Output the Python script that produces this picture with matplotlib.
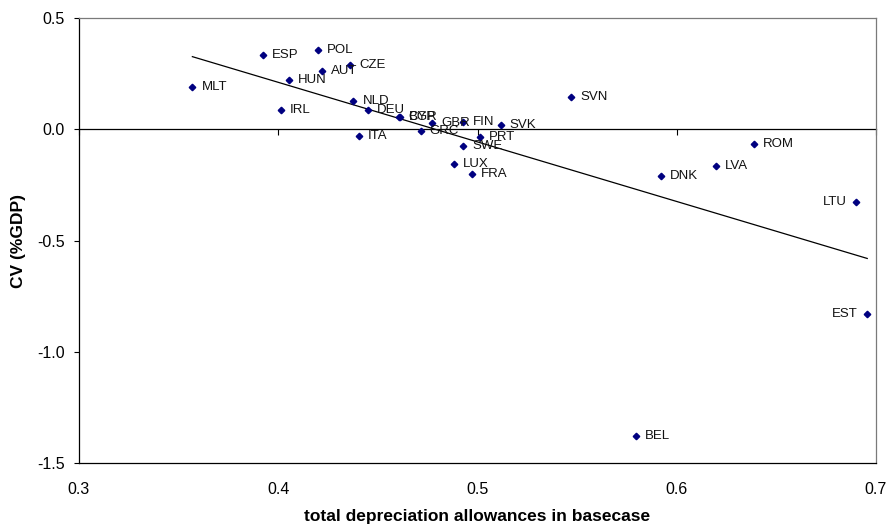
import numpy as np
import matplotlib
matplotlib.use('Agg')
import matplotlib.pyplot as plt
from matplotlib.ticker import FormatStrFormatter

plt.rcParams['font.family'] = ['Liberation Sans', 'DejaVu Sans']

# country codes with depreciation allowances (x) and CV in %GDP (y)
countries = ['MLT', 'ESP', 'POL', 'AUT', 'CZE', 'HUN', 'IRL', 'NLD', 'DEU', 'CYP',
             'BGR', 'GBR', 'FIN', 'SVK', 'PRT', 'GRC', 'ITA', 'SWE', 'LUX', 'FRA',
             'SVN', 'ROM', 'LVA', 'DNK', 'LTU', 'EST', 'BEL']
depr = [0.3569, 0.3922, 0.4198, 0.4218, 0.4360, 0.4055, 0.4014, 0.4377, 0.4452, 0.4607,
        0.4611, 0.4774, 0.4929, 0.5116, 0.5013, 0.4715, 0.4405, 0.4929, 0.4882, 0.4974,
        0.5469, 0.6388, 0.6196, 0.5921, 0.6900, 0.6956, 0.5794]
cv = [0.190, 0.332, 0.357, 0.264, 0.290, 0.222, 0.088, 0.125, 0.088, 0.053,
      0.055, 0.028, 0.031, 0.020, -0.037, -0.010, -0.032, -0.077, -0.155, -0.200,
      0.147, -0.067, -0.164, -0.212, -0.329, -0.829, -1.378]
left_labels = ['LTU', 'EST']

xticks = [0.3, 0.4, 0.5, 0.6, 0.7]
yticks = [0.5, 0.0, -0.5, -1.0, -1.5]
xlim = (0.3, 0.7)
ylim = (-1.5, 0.5)

fig = plt.figure(figsize=(8.88, 5.28), dpi=100)
ax = fig.add_axes([79 / 888, 65 / 528, 797 / 888, 445 / 528])

ax.plot(depr, cv, linestyle='none', marker='D', markersize=3.3,
        color='#000080', zorder=3)

# linear trend across the range of the data
slope, icpt = np.polyfit(depr, cv, 1)
xs = np.array([min(depr), max(depr)])
ax.plot(xs, slope * xs + icpt, color='black', linewidth=0.9, zorder=2)

for name, x, y in zip(countries, depr, cv):
    if name in left_labels:
        ax.annotate(name, (x, y), xytext=(-7, 0), textcoords='offset points',
                    ha='right', va='center', fontsize=9.5, color='#111111')
    else:
        ax.annotate(name, (x, y), xytext=(6.5, 0), textcoords='offset points',
                    ha='left', va='center', fontsize=9.5, color='#111111')

ax.set_xlim(*xlim)
ax.set_ylim(*ylim)
ax.set_xticks(xticks)
ax.set_yticks(yticks)
ax.xaxis.set_major_formatter(FormatStrFormatter('%.1f'))
ax.yaxis.set_major_formatter(FormatStrFormatter('%.1f'))
ax.tick_params(axis='x', length=0, pad=14, labelsize=11.5)
ax.tick_params(axis='y', direction='out', length=3.6, width=0.8, pad=6.5, labelsize=11.5)

for side in ['left', 'bottom']:
    ax.spines[side].set_color('black')
    ax.spines[side].set_linewidth(0.9)
for side in ['top', 'right']:
    ax.spines[side].set_color('#7a7a7a')
    ax.spines[side].set_linewidth(0.9)

# horizontal axis crossing at zero, with its tick marks
zero_loc = (0 - ylim[0]) / (ylim[1] - ylim[0])
zax = ax.secondary_xaxis(zero_loc)
zax.set_xticks(xticks)
zax.tick_params(direction='in', length=4.5, width=0.8, labeltop=False, labelbottom=False)
zax.spines['top'].set_linewidth(0.9)
zax.spines['top'].set_color('black')
zax.spines['bottom'].set_visible(False)

ax.set_xlabel('total depreciation allowances in basecase', fontsize=12.5, fontweight='bold')
ax.xaxis.set_label_coords(0.5, -0.121)
ax.xaxis.label.set_va('center')
ax.set_ylabel('CV (%GDP)', fontsize=12.5, fontweight='bold')
ax.yaxis.set_label_coords(-0.0753, 0.5)
ax.yaxis.label.set_va('center')

fig.savefig('out.png', dpi=100)
